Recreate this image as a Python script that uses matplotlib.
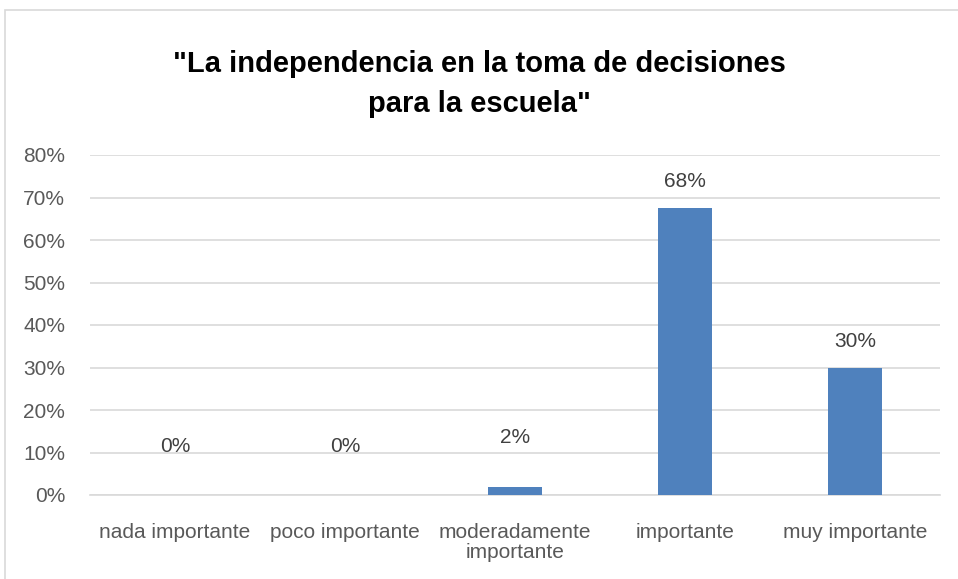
import numpy as np
import matplotlib
matplotlib.use('Agg')
import matplotlib.pyplot as plt
from matplotlib.patches import Rectangle

categories = ['nada importante', 'poco importante', 'moderadamente\nimportante',
              'importante', 'muy importante']
values = [0.0, 0.0, 0.02, 0.675, 0.30]
labels = ['0%', '0%', '2%', '68%', '30%']
yticks = [0, 0.1, 0.2, 0.3, 0.4, 0.5, 0.6, 0.7, 0.8]

plt.rcParams['font.family'] = ['Liberation Sans', 'DejaVu Sans']

W, H = 958, 579
fig = plt.figure(figsize=(W / 100, H / 100), dpi=100)

# chart frame
fig.patches.append(Rectangle((5 / W, -0.1), 1.2, 1 - 10 / H + 0.1,
                             transform=fig.transFigure, fill=False,
                             edgecolor='#d9d9d9', linewidth=1.2))

ax = fig.add_axes([90 / W, 1 - 495 / H, 850 / W, 340 / H])
x = np.arange(len(categories))
ax.bar(x, values, width=0.32, color='#4f81bd', zorder=3)

# excel lifts the labels of tiny bars a bit more
for xi, v, lab in zip(x, values, labels):
    off = 0.115 if v < 0.05 else 0.062
    ax.text(xi, v + off, lab, ha='center', va='center',
            fontsize=15, color='#404040')

ax.set_xlim(-0.5, len(categories) - 0.5)
ax.set_ylim(0, 0.8)
ax.set_yticks(yticks)
ax.set_yticklabels(['%d%%' % round(t * 100) for t in yticks])
ax.set_xticks(x)
ax.set_xticklabels(categories, linespacing=1.1)
ax.yaxis.grid(True, color='#d9d9d9', linewidth=1.2, zorder=0)
ax.tick_params(axis='both', length=0, labelsize=15, labelcolor='#595959')
ax.tick_params(axis='x', pad=20)
ax.tick_params(axis='y', pad=18)
for s in ['top', 'right', 'left']:
    ax.spines[s].set_visible(False)
ax.spines['bottom'].set_color('#d9d9d9')
ax.spines['bottom'].set_linewidth(1.2)

fig.text(0.5, 1 - 84 / H, '"La independencia en la toma de decisiones\npara la escuela"',
         ha='center', va='center', fontsize=21, fontweight='bold',
         color='black', linespacing=1.55)

fig.savefig('out.png', dpi=100)
